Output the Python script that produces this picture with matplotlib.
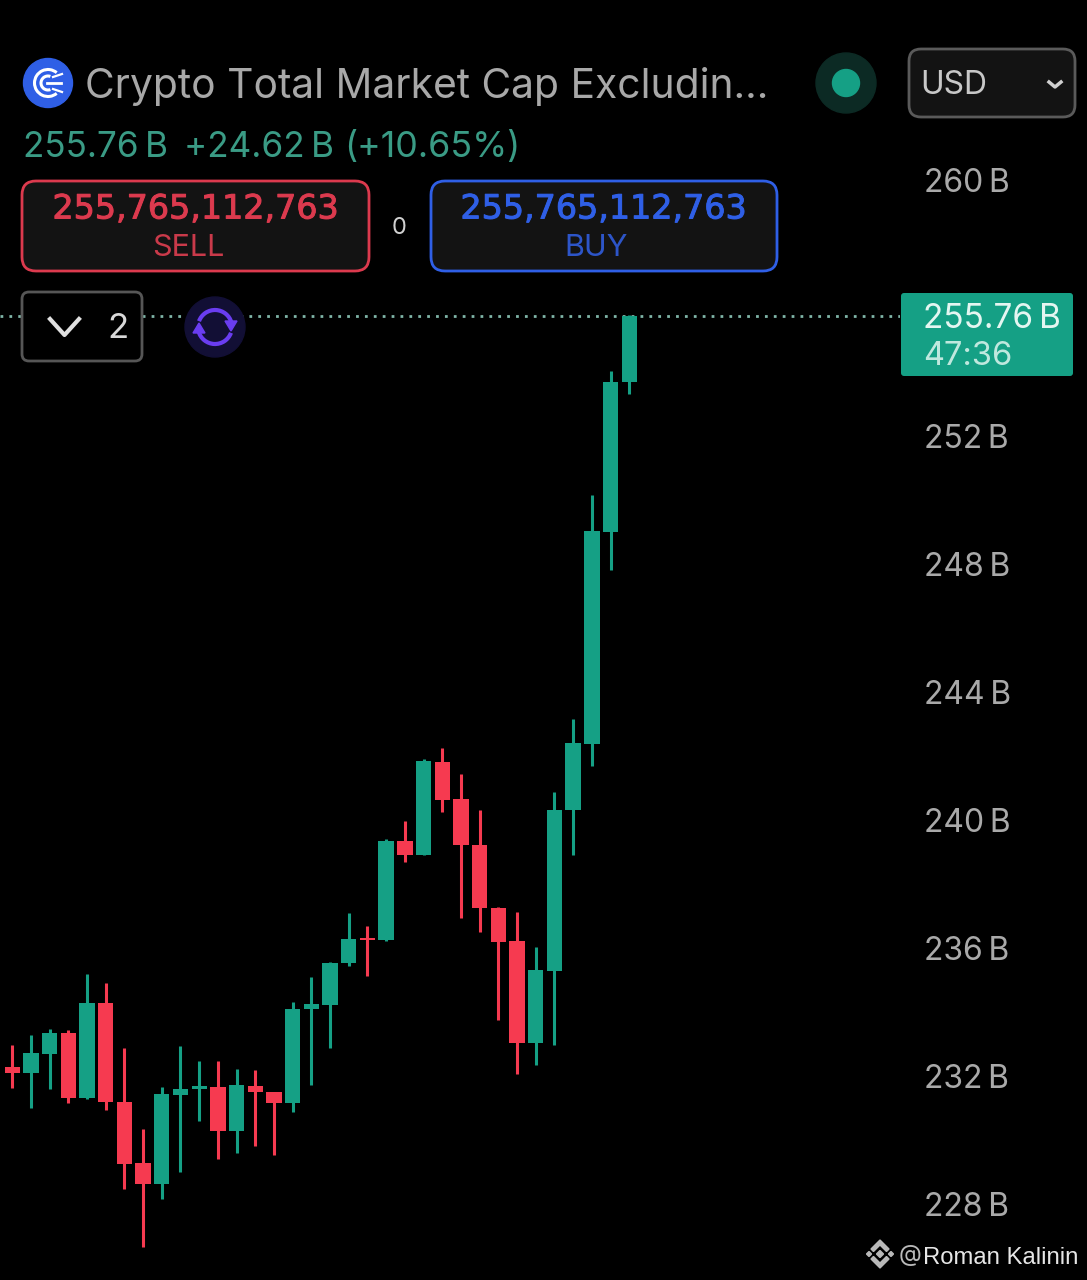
import matplotlib
matplotlib.use('Agg')
import matplotlib.pyplot as plt
import matplotlib.patheffects as pe
from matplotlib.patches import Arc, Circle, FancyBboxPatch, Polygon

plt.rcParams['font.family'] = ['Inter', 'DejaVu Sans']

# Candles (billions of USD)
opens = [232.27, 232.10, 232.70, 233.34, 231.32, 234.27, 231.20, 229.28, 228.63, 231.41, 231.60, 231.66,
         230.28, 231.69, 231.51, 231.15, 234.08, 234.22, 235.52, 236.32, 236.25, 239.33, 238.90, 241.81,
         240.66, 239.22, 237.26, 236.21, 233.03, 235.27, 240.31, 242.38, 249.01, 253.70]
highs = [232.98, 233.27, 233.48, 233.43, 235.20, 234.90, 232.88, 230.35, 231.65, 232.94, 232.46, 232.47,
         232.21, 232.19, 231.51, 234.30, 235.09, 235.56, 237.08, 236.70, 239.42, 239.97, 241.90, 242.24,
         241.45, 240.30, 237.27, 237.13, 236.04, 240.88, 243.16, 250.16, 254.02, 255.79]
lows = [231.63, 231.01, 231.59, 231.15, 231.27, 230.95, 228.47, 226.67, 228.17, 228.99, 230.58, 229.41,
        229.60, 229.82, 229.52, 230.88, 231.72, 232.88, 235.44, 235.13, 236.21, 238.70, 238.90, 240.25,
        236.95, 236.50, 233.74, 232.05, 232.33, 232.96, 238.90, 241.69, 247.82, 253.32]
closes = [232.10, 232.73, 233.34, 231.32, 234.27, 231.18, 229.26, 228.63, 231.43, 231.59, 231.69, 230.28,
          231.71, 231.49, 231.15, 234.10, 234.25, 235.54, 236.29, 236.24, 239.34, 238.90, 241.84, 240.63,
          239.21, 237.24, 236.20, 233.03, 235.30, 240.32, 242.41, 249.03, 253.68, 255.76]

price_ticks = [228, 232, 236, 240, 244, 248, 252, 260]
price_labels = ['228\u2009B', '232\u2009B', '236\u2009B', '240\u2009B', '244\u2009B', '248\u2009B', '252\u2009B', '260\u2009B']
last_price = 255.76

GREEN = '#15a085'
RED = '#f63a50'
BLUE = '#2f5fe6'
SOFT_RED = '#dc3a4e'
STAT_GREEN = '#3a9b85'
GREY = '#a9a9a9'

fig = plt.figure(figsize=(10.87, 12.80), dpi=100, facecolor='black')

# Chart pane stops where the price scale begins
ax = fig.add_axes([0, 0, 900 / 1087, 1], facecolor='black')
ax.set_xlim(-0.652, 47.48)
ax.set_ylim(225.625, 265.625)
for s in ax.spines.values():
    s.set_visible(False)
ax.set_xticks([])
ax.yaxis.tick_right()
ax.set_yticks(price_ticks)
ax.set_yticklabels(price_labels, fontsize=23, color=GREY)
ax.tick_params(axis='y', length=0, pad=17)

ax.axhline(last_price, color='#7fb5a8', lw=2, ls=(0, (1, 2.2)), zorder=1)

for i in range(len(opens)):
    color = GREEN if closes[i] >= opens[i] else RED
    ax.vlines(i, lows[i], highs[i], color=color, lw=2.2, zorder=2)
    ax.bar(i, abs(closes[i] - opens[i]), bottom=min(opens[i], closes[i]), width=0.82, color=color, zorder=3)

# Overlay in pixel coordinates for the app's buttons and labels
ui = fig.add_axes([0, 0, 1, 1], facecolor='none')
ui.set_xlim(0, 1087)
ui.set_ylim(1280, 0)
ui.axis('off')


def box(x0, y0, x1, y1, edge, face='#131313', r=14, lw=2):
    ui.add_patch(FancyBboxPatch((x0, y0), x1 - x0, y1 - y0, boxstyle=f'round,pad=0,rounding_size={r}',
                                fc=face, ec=edge, lw=lw))


def label(x, y, s, size, color, ha='left'):
    # Inter sits a little high when centred on its line box
    ui.text(x, y + 2.5, s, fontsize=size, color=color, ha=ha, va='center')


def price_text(x, y, color):
    ui.text(x, y, '255,765,112,763', fontsize=24, color=color, ha='center', va='center', family='DejaVu Sans',
            path_effects=[pe.withStroke(linewidth=0.7, foreground=color)])


# Header
ui.add_patch(Circle((48, 83), 24.5, color=BLUE))
ui.add_patch(Arc((48, 83), 27, 27, theta1=50, theta2=310, color='white', lw=2.2))
ui.add_patch(Arc((48, 83), 14, 14, theta1=70, theta2=290, color='white', lw=2.2))
ui.plot([47, 61], [83, 83], color='white', lw=2)
ui.plot([53, 62], [77, 74], color='white', lw=1.6)
ui.plot([53, 62], [89, 92], color='white', lw=1.6)
ui.text(85, 86, 'Crypto Total Market Cap Excludin...', fontsize=29.35, color='#a8a8a8', va='center')

ui.add_patch(Circle((846, 83), 30, color='#0c2a24'))
ui.add_patch(Circle((846, 83), 13.5, color=GREEN))

box(909, 49, 1075, 117, '#5a5a5a', r=12)
label(920, 83, 'USD', 23, '#c8c8c8')
ui.plot([1049, 1055, 1061], [82, 87, 82], color='#d0d0d0', lw=2.5)

label(23, 145, '255.76\u2009B', 25.3, STAT_GREEN)
label(184, 145, '+24.62\u2009B', 25.3, STAT_GREEN)
label(344, 145, '(+10.65%)', 25.8, STAT_GREEN)

# Order buttons
box(22, 181, 369, 271, SOFT_RED)
price_text(196, 209, SOFT_RED)
label(188, 246, 'SELL', 22, '#c93a4a', ha='center')
label(399, 226, '0', 17, '#d0d0d0', ha='center')
box(431, 181, 777, 271, BLUE)
price_text(604, 209, BLUE)
label(596, 246, 'BUY', 22, '#2d55c8', ha='center')

box(22, 292, 142, 361, '#565656', face='black', r=7)
ui.plot([50, 64.5, 79], [319, 335, 319], color='#e0e0e0', lw=3)
label(118, 327, '2', 25, '#d8d8d8', ha='center')

# Refresh button
ui.add_patch(Circle((215, 327), 30, color='#120f35'))
ui.add_patch(Arc((215, 327), 34, 34, theta1=200, theta2=345, color='#6a3df0', lw=3))
ui.add_patch(Arc((215, 327), 34, 34, theta1=20, theta2=165, color='#6a3df0', lw=3))
ui.add_patch(Polygon([[225, 321], [237, 321], [231, 331]], color='#6a3df0'))
ui.add_patch(Polygon([[193, 333], [205, 333], [199, 323]], color='#6a3df0'))

# Last price tag
ui.add_patch(FancyBboxPatch((901, 293), 172, 83, boxstyle='round,pad=0,rounding_size=3', fc=GREEN, ec='none'))
label(923, 316, '255.76\u2009B', 24, '#e4f6f1')
label(923, 354, '47:36', 23.5, '#bfe8de')

# Watermark
logo = '#b9b9b9'
ui.add_patch(Polygon([[880, 1250.5], [883.5, 1254], [880, 1257.5], [876.5, 1254]], color=logo))
ui.add_patch(Polygon([[869, 1251.5], [871.5, 1254], [869, 1256.5], [866.5, 1254]], color=logo))
ui.add_patch(Polygon([[891, 1251.5], [893.5, 1254], [891, 1256.5], [888.5, 1254]], color=logo))
ui.add_patch(Polygon([[880, 1240], [889, 1249], [886.5, 1251.5], [880, 1245], [873.5, 1251.5], [871, 1249]], color=logo))
ui.add_patch(Polygon([[880, 1268], [889, 1259], [886.5, 1256.5], [880, 1263], [873.5, 1256.5], [871, 1259]], color=logo))
ui.text(899, 1254.5, '@', fontsize=17, color='#b9b9b9', va='center')
ui.text(923, 1257.5, 'Roman Kalinin', fontsize=17.2, color='#e6e6e6', va='center', family=['Liberation Sans', 'DejaVu Sans'])

fig.savefig('out.png', dpi=100, facecolor='black')
